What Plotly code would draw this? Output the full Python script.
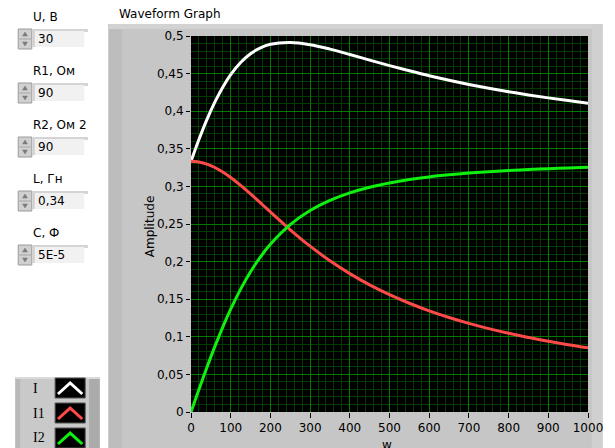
import plotly.graph_objects as go

# ---------------- data ----------------
w = [0, 10, 20, 40, 60, 80, 100, 125, 150, 175, 200, 250, 300, 350, 400, 450,
     500, 550, 600, 650, 700, 750, 800, 850, 900, 950, 1000]
i_total = [0.3333, 0.3481, 0.3623, 0.3887, 0.4120, 0.4320, 0.4486, 0.4648, 0.4765,
           0.4843, 0.4890, 0.4914, 0.4884, 0.4825, 0.4754, 0.4679, 0.4606, 0.4537,
           0.4471, 0.4411, 0.4356, 0.4305, 0.4259, 0.4216, 0.4177, 0.4141, 0.4107]
i1 = [0.3333, 0.3331, 0.3324, 0.3296, 0.3251, 0.3191, 0.3118, 0.3014, 0.2900,
      0.2781, 0.2660, 0.2423, 0.2205, 0.2011, 0.1840, 0.1690, 0.1560, 0.1446,
      0.1345, 0.1257, 0.1179, 0.1109, 0.1047, 0.0991, 0.0941, 0.0895, 0.0853]
i2 = [0.0, 0.0150, 0.0299, 0.0591, 0.0869, 0.1129, 0.1368, 0.1634, 0.1865,
      0.2062, 0.2230, 0.2491, 0.2679, 0.2814, 0.2914, 0.2989, 0.3046, 0.3091,
      0.3126, 0.3154, 0.3177, 0.3196, 0.3212, 0.3225, 0.3236, 0.3246, 0.3254]
series_names = ["I", "I1", "I2"]
series_colors = ["#ffffff", "#ff4a4a", "#10f010"]

control_labels = ["U, В", "R1, Ом", "R2, Ом 2", "L, Гн", "C, Ф"]
control_values = ["30", "90", "90", "0,34", "5E-5"]

title_text = "Waveform Graph"
y_title = "Amplitude"
x_title = "w"

# ---------------- geometry helpers (pixels -> paper) ----------------
W, H = 615, 448
PX0, PX1, PY0, PY1 = 191, 600, 36, 412


def px(x):
    return (x - PX0) / (PX1 - PX0)


def py(y):
    return (PY1 - y) / (PY1 - PY0)


FONT = "DejaVu Sans"
FS = 12

fig = go.Figure()
for name, ys, col in zip(series_names, [i_total, i1, i2], series_colors):
    fig.add_trace(go.Scatter(x=w, y=ys, mode="lines", name=name,
                             line=dict(color=col, width=3, shape="spline"),
                             showlegend=False))

shapes = []


def rect(x0, y0, x1, y1, fill, line=None, lw=0, layer="below"):
    d = dict(type="rect", xref="paper", yref="paper",
             x0=px(x0), x1=px(x1), y0=py(y1), y1=py(y0),
             fillcolor=fill, layer=layer, line=dict(width=lw, color=line or fill))
    shapes.append(d)


# graph panel
rect(106, 24, 615, 448, "#c6c6c6")
rect(106, 24, 120, 448, "#bdbdbd")
rect(106, 24, 615, 29, "#d2d2d2")
rect(604, 24, 615, 448, "#d0d0d0")
rect(PX0, PY0, PX1, PY1, "#000000")

# legend panel
rect(10, 377, 97, 448, "#c9c9c9")
rect(10, 377, 15, 448, "#b9b9b9")
rect(86, 377, 97, 448, "#ababab")
rect(10, 377, 97, 379, "#dadada")
box_tops = [378, 403, 428]
annotations = []
for top, name, col in zip(box_tops, series_names, series_colors):
    rect(51, top, 82, top + 20, "#000000", line="#555555", lw=1)
    path = "M {:.4f} {:.4f} L {:.4f} {:.4f} L {:.4f} {:.4f}".format(
        px(54), py(top + 16), px(66.5), py(top + 5), px(79), py(top + 16))
    shapes.append(dict(type="path", xref="paper", yref="paper", path=path,
                       line=dict(color=col, width=3), layer="below"))
    annotations.append(dict(x=px(26), y=py(top + 10), xref="paper", yref="paper",
                            text=name, showarrow=False, xanchor="left", yanchor="middle",
                            font=dict(family="Liberation Serif", size=14, color="#000")))

# numeric controls
label_ys = [17, 71, 125, 179, 233]
for lab, val, ly in zip(control_labels, control_values, label_ys):
    c = ly + 22
    annotations.append(dict(x=px(26), y=py(ly), xref="paper", yref="paper", text=lab,
                            showarrow=False, xanchor="left", yanchor="middle",
                            font=dict(family=FONT, size=FS, color="#000")))
    rect(28, c - 10, 85, c - 7, "#d4d4d4")
    rect(28, c - 8, 81, c + 8, "#f1f1f1")
    rect(28, c - 8, 30, c + 8, "#cfcfcf")
    annotations.append(dict(x=px(31), y=py(c), xref="paper", yref="paper", text=val,
                            showarrow=False, xanchor="left", yanchor="middle",
                            font=dict(family=FONT, size=FS, color="#000")))
    shapes.append(dict(type="rect", xref="paper", yref="paper",
                       x0=px(13), x1=px(27), y0=py(c + 10), y1=py(c - 10),
                       fillcolor="#d0d0d0", line=dict(color="#9a9a9a", width=1),
                       layer="below"))
    shapes.append(dict(type="line", xref="paper", yref="paper",
                       x0=px(14), x1=px(26), y0=py(c), y1=py(c),
                       line=dict(color="#a8a8a8", width=1), layer="below"))
    up = "M {:.4f} {:.4f} L {:.4f} {:.4f} L {:.4f} {:.4f} Z".format(
        px(17.5), py(c - 3), px(20), py(c - 7), px(22.5), py(c - 3))
    dn = "M {:.4f} {:.4f} L {:.4f} {:.4f} L {:.4f} {:.4f} Z".format(
        px(17.5), py(c + 3), px(20), py(c + 7), px(22.5), py(c + 3))
    for p in (up, dn):
        shapes.append(dict(type="path", xref="paper", yref="paper", path=p,
                           fillcolor="#7a7a7a", line=dict(color="#7a7a7a", width=0.5),
                           layer="below"))

# titles
annotations.append(dict(x=px(115), y=py(14), xref="paper", yref="paper", text=title_text,
                        showarrow=False, xanchor="left", yanchor="middle",
                        font=dict(family=FONT, size=FS, color="#000")))
annotations.append(dict(x=px(149), y=py(226), xref="paper", yref="paper", text=y_title,
                        showarrow=False, textangle=-90, xanchor="center", yanchor="middle",
                        font=dict(family=FONT, size=FS, color="#000")))
annotations.append(dict(x=px(393), y=py(436), xref="paper", yref="paper", text=x_title,
                        showarrow=False, xanchor="center", yanchor="top",
                        font=dict(family=FONT, size=FS, color="#000")))

fig.update_layout(
    width=W, height=H,
    margin=dict(l=PX0, r=W - PX1, t=PY0, b=H - PY1, pad=0),
    paper_bgcolor="#ffffff", plot_bgcolor="#000000",
    separators=", ",
    font=dict(family=FONT, size=FS, color="#000"),
    shapes=shapes, annotations=annotations,
    showlegend=False,
)
fig.update_xaxes(range=[0, 1000], dtick=100, tick0=0, tickformat="d",
                 showgrid=True, gridcolor="#007a00", gridwidth=1,
                 minor=dict(dtick=20, showgrid=True, gridcolor="#003d00", gridwidth=1),
                 ticks="outside", ticklen=5, tickcolor="#000", showline=False,
                 zeroline=False, ticklabeloverflow="allow",
                 tickfont=dict(family=FONT, size=FS))
fig.update_yaxes(range=[0, 0.5], dtick=0.05, tick0=0,
                 showgrid=True, gridcolor="#007a00", gridwidth=1,
                 minor=dict(dtick=0.01, showgrid=True, gridcolor="#003d00", gridwidth=1),
                 ticks="outside", ticklen=4, tickcolor="#000", showline=False,
                 zeroline=False, ticklabeloverflow="allow",
                 tickfont=dict(family=FONT, size=FS))

fig.write_html("out.html", config={"displayModeBar": False},
               post_script="document.body.style.margin='0';document.body.style.overflow='hidden';")
